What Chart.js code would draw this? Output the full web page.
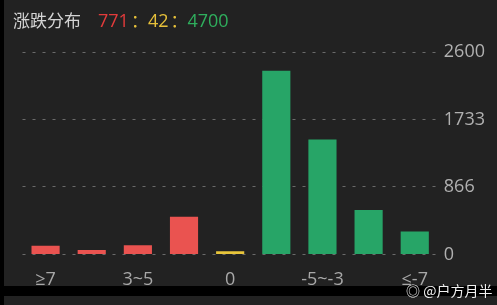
<!DOCTYPE html>
<html>
<head>
<meta charset="utf-8">
<script src="https://cdn.jsdelivr.net/npm/chart.js@4/dist/chart.umd.min.js"></script>
<style>
  html, body { margin: 0; padding: 0; background: #000; }
  #wrap { position: relative; width: 497px; height: 305px; background: #000; overflow: hidden; }
  #panel { position: absolute; left: 4px; top: 0; width: 493px; height: 305px; background: #222222; }
  #grafico { position: absolute; left: 0; top: 0; }
  #titulo { position: absolute; left: 9px; top: 7px; font-family: "Noto Sans CJK SC", "Open Sans", sans-serif; font-size: 17px; color: #d4d4d4; white-space: nowrap; }
  #titulo .num { font-family: "Open Sans", sans-serif; font-size: 18px; }
  #faixa { position: absolute; left: 0; top: 286px; width: 493px; height: 10px; background: #000; }
  #marca { position: absolute; left: 402px; top: 280px; font-family: "Noto Sans CJK SC", sans-serif; font-size: 14px; color: #f0f0f0; white-space: nowrap; }
</style>
</head>
<body>
<div id="wrap">
  <div id="panel">
    <canvas id="grafico" width="493" height="305"></canvas>
    <div id="titulo">涨跌分布<span style="display:inline-block;width:17px"></span><span class="num" style="color:#e23b3b">771</span><span style="color:#e6c03a;margin-left:2px">：</span><span class="num" style="color:#e6c03a">42</span><span style="color:#e6c03a;margin-left:2px">：</span><span class="num" style="color:#2fae5d">4700</span></div>
    <div id="faixa"></div>
    <div id="marca">◎ @户方月半</div>
  </div>
</div>
<script>
// faixas de variação (%)
var categorias = ['≥7', '5~7', '3~5', '0~3', '0', '-3~0', '-5~-3', '-7~-5', '≤-7'];
var quantidades = [110, 58, 118, 485, 42, 2360, 1475, 570, 295];
var ticksEixoY = [0, 866, 1733, 2600];

var cores = quantidades.map(function (v, i) {
    if (i < 4) return '#ea5350';
    if (i === 4) return '#e8c53a';
    return '#27a567';
});

var ctx = document.getElementById('grafico').getContext('2d');
var grafico = new Chart(ctx, {
    type: 'bar',
    data: {
        labels: categorias,
        datasets: [{
            data: quantidades,
            backgroundColor: cores,
            borderWidth: 0,
            barPercentage: 0.61,
            categoryPercentage: 1
        }]
    },
    options: {
        responsive: false,
        animation: false,
        layout: { padding: { left: 18.5, right: 6, top: 52, bottom: 7 } },
        plugins: { legend: { display: false }, tooltip: { enabled: false } },
        scales: {
            x: {
                grid: { display: false },
                border: { display: false },
                ticks: {
                    autoSkip: false,
                    maxRotation: 0,
                    padding: 7,
                    color: '#a8a8a8',
                    font: { family: 'Open Sans', size: 18 },
                    callback: function (v, i) { return i % 2 === 0 ? categorias[i] : ''; }
                }
            },
            y: {
                position: 'right',
                min: 0,
                max: 2600,
                afterBuildTicks: function (axis) {
                    axis.ticks = ticksEixoY.map(function (v) { return { value: v }; });
                },
                grid: { color: '#6a6a6a', lineWidth: 1, drawTicks: false },
                border: { display: false, dash: [3, 7] },
                ticks: {
                    padding: 6,
                    color: '#b0b0b0',
                    font: { family: 'Open Sans', size: 18 },
                    callback: function (v) { return String(v); }
                }
            }
        }
    }
});
</script>
</body>
</html>
